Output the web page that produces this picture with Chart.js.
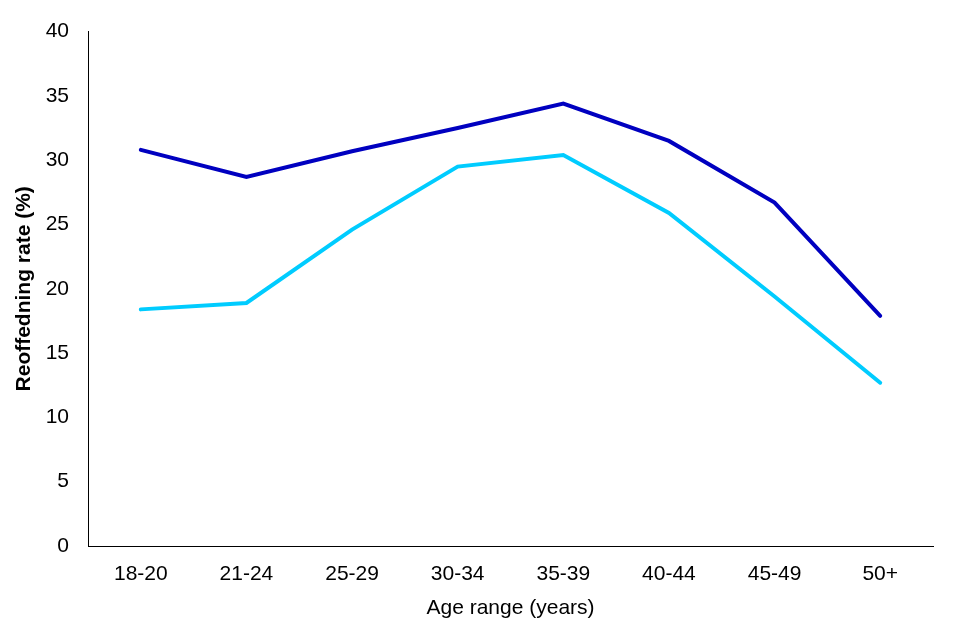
<!DOCTYPE html>
<html>
<head>
<meta charset="utf-8">
<script src="https://cdn.jsdelivr.net/npm/chart.js@4"></script>
<style>
  html, body { margin: 0; padding: 0; background: #fff; }
  #wrap { width: 960px; height: 640px; }
</style>
</head>
<body>
<div id="wrap"><canvas id="chart" width="960" height="640"></canvas></div>
<script>
// data
const ageRanges = ['18-20', '21-24', '25-29', '30-34', '35-39', '40-44', '45-49', '50+'];
const seriesDark = [30.8, 28.7, 30.7, 32.5, 34.4, 31.5, 26.7, 17.9];
const seriesLight = [18.4, 18.9, 24.6, 29.5, 30.4, 25.9, 19.4, 12.7];

Chart.defaults.font.family = "'Liberation Sans', Arial, sans-serif";
Chart.defaults.color = '#000';

const ctx = document.getElementById('chart').getContext('2d');

new Chart(ctx, {
    type: 'line',
    data: {
        labels: ageRanges,
        datasets: [{
            label: 'Series 1',
            data: seriesDark,
            borderColor: '#0000c0',
            borderWidth: 4,
            borderCapStyle: 'round',
            pointRadius: 0,
            tension: 0,
            fill: false
        },
        {
            label: 'Series 2',
            data: seriesLight,
            borderColor: '#00ccff',
            borderWidth: 4,
            borderCapStyle: 'round',
            pointRadius: 0,
            tension: 0,
            fill: false
        }]
    },
    options: {
        responsive: false,
        animation: false,
        layout: { padding: { left: 12, right: 27, top: 26, bottom: 19 } },
        plugins: {
            legend: { display: false },
            tooltip: { enabled: false }
        },
        scales: {
            x: {
                offset: true,
                afterFit: (scale) => { scale.height = 75; },
                grid: { display: false, drawTicks: false },
                border: { color: '#000', width: 1 },
                ticks: { font: { size: 21 }, padding: 16, maxRotation: 0 },
                title: { display: true, text: 'Age range (years)', font: { size: 21 }, padding: { top: 7, bottom: 0 } }
            },
            y: {
                min: 0,
                max: 40,
                afterFit: (scale) => { scale.width = 76; },
                grid: { display: false, drawTicks: false },
                border: { color: '#000', width: 1 },
                ticks: { stepSize: 5, font: { size: 21 }, padding: 19 },
                title: { display: true, text: 'Reoffedning rate (%)', font: { size: 21, weight: 'bold' }, padding: { top: 0, bottom: 8 } }
            }
        }
    }
});
</script>
</body>
</html>
